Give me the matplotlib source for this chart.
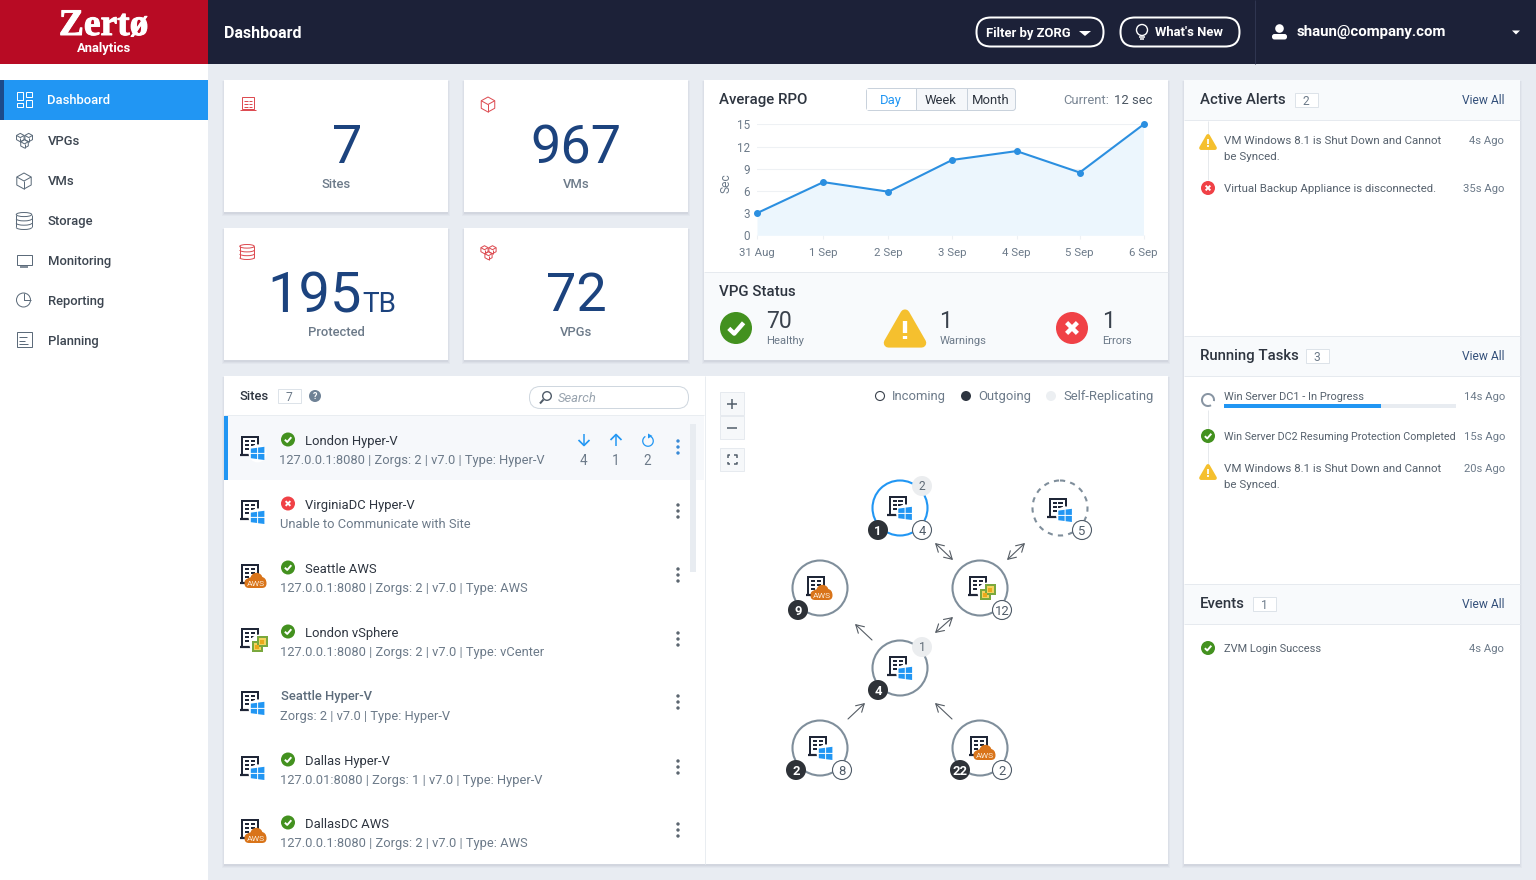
import matplotlib
matplotlib.use("Agg")
from matplotlib import pyplot as plt
from matplotlib import patheffects
from matplotlib.patches import Rectangle, FancyBboxPatch, Circle, Polygon, Ellipse, Arc, Wedge

plt.rcParams["font.family"] = ["Roboto", "DejaVu Sans"]

# Average RPO chart
rpo_days = ["31 Aug", "1 Sep", "2 Sep", "3 Sep", "4 Sep", "5 Sep", "6 Sep"]
rpo_pos = [0, 1.03, 2.04, 3.03, 4.03, 5.01, 6]
rpo_values = [3.0, 7.2, 5.9, 10.2, 11.4, 8.5, 15.0]
rpo_ticks = [0, 3, 6, 9, 12, 15]

# Top cards
card_values = ["7", "967", "195", "72"]
card_labels = ["Sites", "VMs", "Protected", "VPGs"]

# Sidebar
menu_items = ["Dashboard", "VPGs", "VMs", "Storage", "Monitoring", "Reporting", "Planning"]

# Sites list
site_names = ["London Hyper-V", "VirginiaDC Hyper-V", "Seattle AWS", "London vSphere",
              "Seattle Hyper-V", "Dallas Hyper-V", "DallasDC AWS"]
site_details = ["127.0.0.1:8080 | Zorgs: 2 | v7.0 | Type: Hyper-V",
                "Unable to Communicate with Site",
                "127.0.0.1:8080 | Zorgs: 2 | v7.0 | Type: AWS",
                "127.0.0.1:8080 | Zorgs: 2 | v7.0 | Type: vCenter",
                "Zorgs: 2 | v7.0 | Type: Hyper-V",
                "127.0.01:8080 | Zorgs: 1 | v7.0 | Type: Hyper-V",
                "127.0.0.1:8080 | Zorgs: 2 | v7.0 | Type: AWS"]
site_status = ["ok", "err", "ok", "ok", None, "ok", "ok"]
site_types = ["win", "win", "aws", "vs", "win", "win", "aws"]

NAVY = "#1c2138"
BLUE = "#2196f3"
GREY = "#6c7a89"
DARK = "#2e3540"
GREEN = "#43911f"
RED = "#f04146"
YELLOW = "#f5c02e"
CARD_BLUE = "#1c437e"
NOTE = "#56616d"

fig = plt.figure(figsize=(15.36, 8.8), dpi=100, facecolor="#e8ecf2")
ax = fig.add_axes([0, 0, 1, 1])
ax.set_xlim(0, 1536)
ax.set_ylim(880, 0)
ax.axis("off")


def T(x, y, s, size=13, color=DARK, ha="left", weight="normal", **kw):
    # y is the middle of the capital letters, size is in pixels
    return ax.text(x, y + 0.36 * size, s, fontsize=size * 0.72, color=color, ha=ha, va="baseline",
                   fontweight=weight, **kw)


def box(x0, y0, x1, y1, fc="white", ec="none", lw=0, z=1, r=0, **kw):
    if r:
        p = FancyBboxPatch((x0, y0), x1 - x0, y1 - y0, boxstyle=f"round,pad=0,rounding_size={r}",
                           fc=fc, ec=ec, lw=lw * 0.72, zorder=z, **kw)
    else:
        p = Rectangle((x0, y0), x1 - x0, y1 - y0, fc=fc, ec=ec, lw=lw * 0.72, zorder=z, **kw)
    ax.add_patch(p)


def line(xs, ys, color=DARK, lw=1, z=3, **kw):
    ax.plot(xs, ys, color=color, lw=lw * 0.72, zorder=z, solid_capstyle=kw.pop("cap", "butt"), **kw)


def card(x0, y0, x1, y1):
    for off, alpha in [(3, 0.03), (2, 0.04), (1, 0.05)]:
        box(x0 - off + 1, y0 + 1, x1 + off - 1, y1 + off + 1, fc="#33415c", alpha=alpha, z=0.5)
    box(x0, y0, x1, y1, z=1)


def check_icon(x, y, r=8):
    ax.add_patch(Circle((x, y), r, fc=GREEN, ec="none", zorder=4))
    k = r / 8
    line([x - 3.6 * k, x - 0.9 * k, x + 3.8 * k], [y + 0.2 * k, y + 2.8 * k, y - 2.6 * k], "white", 2.2 * k, 5)


def err_icon(x, y, r=8):
    ax.add_patch(Circle((x, y), r, fc=RED, ec="none", zorder=4))
    k = r / 8
    line([x - 2.7 * k, x + 2.7 * k], [y - 2.7 * k, y + 2.7 * k], "white", 2.2 * k, 5)
    line([x - 2.7 * k, x + 2.7 * k], [y + 2.7 * k, y - 2.7 * k], "white", 2.2 * k, 5)


def warn_icon(x, y, w=16):
    h = w * 0.8
    ax.add_patch(Polygon([(x, y - h / 2), (x + w * 0.46, y + h / 2), (x - w * 0.46, y + h / 2)], closed=True,
                         fc=YELLOW, ec=YELLOW, lw=3 * w / 16, joinstyle="round", zorder=4))
    line([x, x], [y - h * 0.25, y + h * 0.17], "white", w * 0.12, 5)
    line([x, x], [y + h * 0.27, y + h * 0.38], "white", w * 0.12, 5)


def building(cx, cy, color="#1f2637"):
    box(cx - 8, cy - 9, cx + 8, cy + 9, fc="white", ec=color, lw=2, z=4)
    line([cx - 10.5, cx + 8], [cy + 9, cy + 9], color, 2.2, 5)
    for dy in (-5, -0.8, 3.4):
        line([cx - 5, cx - 0.8], [cy + dy, cy + dy], color, 2, 5)
        line([cx + 0.8, cx + 5], [cy + dy, cy + dy], color, 2, 5)


def windows(cx, cy):
    ax.add_patch(Circle((cx, cy), 9, fc="white", zorder=5.5))
    ax.add_patch(Polygon([(cx - 6.8, cy - 4.8), (cx - 0.5, cy - 5.6), (cx - 0.5, cy - 0.5), (cx - 6.8, cy - 0.5)],
                         fc=BLUE, zorder=6))
    ax.add_patch(Polygon([(cx + 0.5, cy - 5.8), (cx + 6.8, cy - 6.6), (cx + 6.8, cy - 0.5), (cx + 0.5, cy - 0.5)],
                         fc=BLUE, zorder=6))
    ax.add_patch(Polygon([(cx - 6.8, cy + 0.5), (cx - 0.5, cy + 0.5), (cx - 0.5, cy + 5.6), (cx - 6.8, cy + 4.8)],
                         fc=BLUE, zorder=6))
    ax.add_patch(Polygon([(cx + 0.5, cy + 0.5), (cx + 6.8, cy + 0.5), (cx + 6.8, cy + 6.6), (cx + 0.5, cy + 5.8)],
                         fc=BLUE, zorder=6))


def aws(cx, cy):
    c = "#d9741a"
    box(cx - 11, cy - 2, cx + 11, cy + 7.5, fc=c, r=4.5, z=6)
    ax.add_patch(Circle((cx + 1, cy - 1.5), 6.2, fc=c, zorder=6))
    ax.add_patch(Circle((cx + 6, cy + 1), 4.5, fc=c, zorder=6))
    ax.add_patch(Circle((cx - 5, cy + 1), 4, fc=c, zorder=6))
    T(cx, cy + 2.5, "AWS", 8.5, "#fbe9d4", "center", zorder=7)


def vsphere(cx, cy):
    ax.add_patch(Circle((cx, cy), 10, fc="white", zorder=5.5))
    box(cx - 7, cy - 2, cx + 2, cy + 7, fc="#f4d35e", ec="#7aa83e", lw=2, z=6)
    box(cx - 2, cy - 7, cx + 7, cy + 2, fc="#f4d35e", ec="#7aa83e", lw=2, z=7)
    box(cx - 4.5, cy + 0.5, cx - 0.5, cy + 4.5, fc="#eba91c", z=8)
    box(cx + 0.5, cy - 4.5, cx + 4.5, cy - 0.5, fc="#eba91c", z=8)


def site_icon(cx, cy, kind):
    building(cx, cy)
    if kind == "win":
        windows(cx + 7.6, cy + 7.4)
    elif kind == "aws":
        aws(cx + 5.5, cy + 6.5)
    else:
        vsphere(cx + 9.5, cy + 6.5)


def badge(x, y, s, fc, ec="none", color="white", r=10, weight="bold", size=13):
    ax.add_patch(Circle((x, y), r, fc=fc, ec=ec, lw=0.8, zorder=8))
    T(x, y, s, size, color, "center", weight, zorder=9)


# --- header and sidebar
box(208, 0, 1536, 64, fc=NAVY, z=2)
box(0, 0, 208, 64, fc="#b80b24", z=2)
box(0, 64, 208, 880, z=1)
box(0, 80, 208, 120, fc=BLUE, z=2)
box(0, 80, 4, 120, fc="#1c4a8a", z=3)
logo = ax.text(103.5, 35, "Zertø", fontsize=27, color="white", ha="center", va="baseline", fontweight="bold",
               family="Liberation Serif", zorder=4)
logo.set_path_effects([patheffects.withStroke(linewidth=0.7, foreground="white")])
T(104, 47, "Analytics", 13, "white", "center", "bold", zorder=4)
T(224, 32, "Dashboard", 16, "white", weight="bold", zorder=4)

box(976.5, 17.5, 1103.5, 46.5, fc=NAVY, ec="white", lw=2, r=14.4, z=3)
T(986, 32, "Filter by ZORG", 13, "white", weight="bold", zorder=4)
ax.add_patch(Polygon([(1079, 31), (1091, 31), (1085, 36)], fc="white", zorder=4))
box(1120.5, 17.5, 1239.5, 46.5, fc=NAVY, ec="white", lw=2, r=14.4, z=3)
T(1155, 31.5, "What's New", 13, "white", weight="bold", zorder=4)
ax.add_patch(Circle((1142, 30), 5.5, fc="none", ec="white", lw=1, zorder=4))
line([1139, 1145], [37, 37], "white", 1.5, 4)
line([1140, 1144], [39.5, 39.5], "white", 1.5, 4)
line([1255, 1255], [0, 64], "#2f3550", 1, 4)
ax.add_patch(Circle((1279.5, 28.5), 4.3, fc="white", zorder=4))
box(1272, 34, 1287, 39.5, fc="white", r=2.5, z=4)
T(1297, 31, "shaun@company.com", 15, "white", weight="bold", zorder=4)
ax.add_patch(Polygon([(1512, 30.5), (1520, 30.5), (1516, 34.5)], fc="white", zorder=4))

menu_y = [99, 140, 180, 220, 260, 300, 340]
for i, name in enumerate(menu_items):
    if i == 0:
        T(47, menu_y[i], name, 13, "white", weight="medium", zorder=4)
    else:
        T(48, menu_y[i], name, 13, "#3c4550", weight="medium", zorder=4)

IC = "#5c6b7a"
box(16.5, 92.5, 22.5, 100, fc="none", ec="white", lw=1, z=4)
box(25.5, 92.5, 31.5, 97.5, fc="none", ec="white", lw=1, z=4)
box(16.5, 103, 22.5, 107.5, fc="none", ec="white", lw=1, z=4)
box(25.5, 100, 31.5, 107.5, fc="none", ec="white", lw=1, z=4)


def cube(cx, cy, s, color, lw=1):
    pts = [(cx, cy - s), (cx + s * 0.9, cy - s * 0.5), (cx + s * 0.9, cy + s * 0.5), (cx, cy + s),
           (cx - s * 0.9, cy + s * 0.5), (cx - s * 0.9, cy - s * 0.5)]
    ax.add_patch(Polygon(pts, closed=True, fc="none", ec=color, lw=lw * 0.72, zorder=4))
    line([cx - s * 0.9, cx, cx + s * 0.9], [cy - s * 0.5, cy, cy - s * 0.5], color, lw, 4)
    line([cx, cx], [cy, cy + s], color, lw, 4)


def cubes(cx, cy, s, color):
    cube(cx - s, cy - s * 0.7, s, color)
    cube(cx + s, cy - s * 0.7, s, color)
    cube(cx, cy + s * 0.8, s, color)


def db(cx, cy, w, h, color, lw=1):
    # stacked disks: top ellipse and three lower rims
    eh = h * 0.24
    top = cy - h / 2 + eh / 2
    ax.add_patch(Ellipse((cx, top), w, eh, fc="none", ec=color, lw=lw * 0.72, zorder=4))
    line([cx - w / 2, cx - w / 2], [top, cy + h / 2 - eh / 2], color, lw, 4)
    line([cx + w / 2, cx + w / 2], [top, cy + h / 2 - eh / 2], color, lw, 4)
    for k in range(3):
        yy = top + (k + 1) * (h - eh) / 3
        ax.add_patch(Arc((cx, yy), w, eh, theta1=0, theta2=180, ec=color, lw=lw * 0.72, zorder=4))


def sheet(cx, cy, w, h, color, lw=1):
    box(cx - w / 2, cy - h / 2, cx + w / 2, cy + h / 2, fc="none", ec=color, lw=lw, z=4)
    for k, f in [(-0.22, 0.2), (0.05, 0.05), (0.3, 0.28)]:
        line([cx - w * 0.32, cx + w * f], [cy + k * h, cy + k * h], color, lw, 4)


cubes(24.5, 140.5, 4.2, IC)
cube(24, 181, 8, IC)
db(24, 221, 15.5, 17, IC)
box(16.5, 255.5, 31.5, 265, fc="none", ec=IC, lw=1, z=4)
line([20, 28], [267, 267], IC, 1.5, 4)
ax.add_patch(Circle((23.5, 300), 7, fc="none", ec=IC, lw=0.72, zorder=4))
line([23.5, 23.5, 30.5], [293, 300, 300], IC, 1, 4)
sheet(24, 340, 15, 15, IC)

# --- top cards
card_boxes = [(224, 80, 448, 212), (464, 80, 688, 212), (224, 228, 448, 360), (464, 228, 688, 360)]
for i, (x0, y0, x1, y1) in enumerate(card_boxes):
    card(x0, y0, x1, y1)
    if i == 2:
        T(267, y0 + 64, card_values[i], 56, CARD_BLUE, zorder=4)
        T(362, y0 + 74, "TB", 28, CARD_BLUE, zorder=4)
    else:
        T(x0 + (123 if i == 0 else 112), y0 + 64, card_values[i], 54, CARD_BLUE, "center", zorder=4)
    T(x0 + 112.5, y0 + 103.5, card_labels[i], 13, "#6c7a89", "center", "medium", zorder=4)
RC = "#dd4c52"
box(242, 97.5, 254, 109.5, fc="none", ec=RC, lw=1, z=4)
line([240, 256], [110.5, 110.5], RC, 1, 4)
for yy in (101, 104, 107):
    line([244, 247.5], [yy, yy], RC, 1, 4)
    line([248.5, 252], [yy, yy], RC, 1, 4)
cube(488, 104.5, 7.5, RC)
db(247, 252, 14.5, 15, RC)
cubes(488.5, 252.5, 4, RC)

# --- RPO panel
card(704, 80, 1168, 360)
box(704, 273, 1168, 360, fc="#f8fafc", z=1.5)
line([704, 1168], [272.5, 272.5], "#e6eaef", 1, 2)
T(719, 98.5, "Average RPO", 15, DARK, weight="medium", zorder=4)
box(866.5, 88.5, 1015.5, 110.5, fc="#f5f7fa", ec="#c9d2dc", lw=1, r=3, z=3)
box(867, 89, 915.5, 110, fc="white", z=3.5)
line([915.5, 915.5], [88.5, 110.5], "#c9d2dc", 1, 4)
line([966.5, 966.5], [88.5, 110.5], "#c9d2dc", 1, 4)
T(891, 99.5, "Day", 13, BLUE, "center", zorder=5)
T(941, 99.5, "Week", 13, DARK, "center", zorder=5)
T(991, 99.5, "Month", 13, DARK, "center", zorder=5)
T(1109, 99.5, "Current:", 13, "#7a8694", "right", zorder=5)
T(1152, 99.5, "12 sec", 13, "#4a5562", "right", zorder=5)
T(729, 178.5, "Sec", 12, "#6c7a89", "center", rotation=90, rotation_mode="anchor", zorder=5)

# plot area in px: x 757..1143.5, y 124.5..235.3
chart = fig.add_axes([757 / 1536, 1 - 235.3 / 880, 386.5 / 1536, 110.8 / 880], zorder=2)
chart.patch.set_alpha(0)
chart.fill_between(rpo_pos, rpo_values, color="#ecf6fd", lw=0, zorder=1)
chart.plot(rpo_pos, rpo_values, color="#2b8fe0", lw=1.5, marker="o", ms=4, clip_on=False, zorder=3)
chart.set_xlim(0, 6)
chart.set_ylim(0, 15)
chart.set_xticks(rpo_pos, rpo_days)
chart.set_yticks(rpo_ticks)
chart.grid(axis="y", color="#eef1f4", lw=0.8, zorder=0)
chart.set_axisbelow(True)
for s in chart.spines.values():
    s.set_visible(False)
chart.tick_params(axis="x", length=3, color="#eef1f4", labelsize=8.2, labelcolor="#6c7a89", pad=6.5)
chart.tick_params(axis="y", length=0, labelsize=8.4, labelcolor="#6c7a89", pad=5)

T(719, 291, "VPG Status", 15, DARK, weight="medium", zorder=4)
check_icon(736, 328, 16)
warn_icon(905, 328.5, 36)
err_icon(1072, 328, 16)
for x, n, lab in [(767, "70", "Healthy"), (940, "1", "Warnings"), (1103, "1", "Errors")]:
    T(x - 1, 320, n, 23, "#3a424d", zorder=4)
    T(x - 0.5, 340, lab, 11.2, "#6c7a89", zorder=4)

# --- sites panel
card(224, 376, 1168, 864)
line([704.5, 704.5], [376, 864], "#e9edf1", 1, 2)
line([224, 704], [415.5, 415.5], "#e9edf1", 1, 2)
T(240, 395.5, "Sites", 13, DARK, weight="medium", zorder=4)
box(277.5, 389, 300.5, 403, fc="white", ec="#dde3e9", lw=1, z=3)
T(289, 397, "7", 12, "#6c7a89", "center", zorder=4)
ax.add_patch(Circle((315, 396), 6, fc="#6f8296", zorder=4))
T(315, 396, "?", 9, "white", "center", "bold", zorder=5)
box(529.5, 386.5, 688.5, 408.5, fc="white", ec="#cfd7df", lw=1, r=10.8, z=3)
ax.add_patch(Circle((547, 396), 4.3, fc="none", ec="#4f5b68", lw=1, zorder=4))
line([543.5, 540], [399.5, 403.5], "#4f5b68", 2, 4)
T(558, 397.5, "Search", 13, "#98a3ae", style="italic", zorder=4)

box(224, 416, 704, 480, fc="#f6f8fb", z=2)
box(224, 416, 228, 480, fc=BLUE, z=3)
box(690, 424, 696, 572, fc="#e8ecf1", z=3)
name_y = [440, 504, 568, 632, 695, 760, 823]
sub_y = [459, 523, 587, 651, 715, 779, 842]
sub_x = [279, 280, 280, 280, 280, 280, 280]
for i, name in enumerate(site_names):
    site_icon(250, name_y[i] + 6, site_types[i])
    if site_status[i] == "ok":
        check_icon(288, name_y[i] - 0.5, 7)
    elif site_status[i] == "err":
        err_icon(288, name_y[i] - 0.5, 7)
    if site_status[i] is None:
        T(281, name_y[i], name, 13, "#5d6c7b", weight="medium", zorder=4)
    else:
        T(305, name_y[i], name, 13, DARK, zorder=4)
    T(sub_x[i], sub_y[i], site_details[i], 12.9, "#6c7a89", zorder=4)
    for d in (-6, 0, 6):
        c = "#3a8ad6" if i == 0 else "#5c6670"
        ax.add_patch(Circle((678, name_y[i] + 7 + d), 1.7, fc=c, zorder=4))

# row 0 counters
for x, n in [(584, "4"), (616, "1"), (648, "2")]:
    T(x - 0.5, 460, n, 13.5, "#6c7a89", "center", zorder=4)
line([584, 584], [434, 445], BLUE, 1.5, 4)
line([578.5, 584, 589.5], [440, 445.5, 440], BLUE, 1.7, 4)
line([616, 616], [435, 446], BLUE, 1.5, 4)
line([610.5, 616, 621.5], [440, 434.5, 440], BLUE, 1.7, 4)
ax.add_patch(Arc((648, 441), 10.5, 10.5, theta1=-60, theta2=240, ec=BLUE, lw=0.9, zorder=4))
ax.add_patch(Polygon([(648, 433.5), (652.5, 436), (648, 438.5)], fc=BLUE, zorder=4))

# map controls
for y0 in (392, 416, 448):
    box(720, y0 + 0.5, 743.5, y0 + 23.5, fc="#f6f8fa", ec="#e6eaef", lw=1, z=3)
line([727, 737], [404, 404], "#4f5b68", 1.5, 4)
line([732, 732], [399, 409], "#4f5b68", 1.5, 4)
line([727, 737], [428, 428], "#4f5b68", 1.5, 4)
for sx, sy in [(-1, -1), (1, -1), (-1, 1), (1, 1)]:
    line([732 + sx * 4.5, 732 + sx * 4.5, 732 + sx * 2], [460 + sy * 2, 460 + sy * 4.5, 460 + sy * 4.5], "#4f5b68", 1.5, 4)

ax.add_patch(Circle((880, 396), 4.5, fc="white", ec="#3a424d", lw=0.8, zorder=4))
T(892, 395.5, "Incoming", 13, "#6c7a89", zorder=4)
ax.add_patch(Circle((966, 396), 5, fc="#2e3540", zorder=4))
T(978, 395.5, "Outgoing", 13, "#6c7a89", zorder=4)
ax.add_patch(Circle((1051, 396), 5, fc="#eceff2", zorder=4))
T(1063, 395.5, "Self-Replicating", 13, "#6c7a89", zorder=4)

# --- site map: ring x, ring y, icon x, icon y, type, colour, line style
RING = "#7f8e9b"
map_nodes = [(900, 508, 897.5, 506, "win", BLUE, "-"), (1060, 508, 1057.5, 508, "win", RING, (0, (2.5, 2.5))),
             (820, 588, 816, 586, "aws", RING, "-"), (980, 588, 978, 586, "vs", RING, "-"),
             (900, 668, 897.7, 666, "win", RING, "-"), (820, 748, 818, 746, "win", RING, "-"),
             (980, 748, 979, 746, "aws", RING, "-")]
for cx, cy, ix, iy, kind, col, ls in map_nodes:
    ax.add_patch(Circle((cx, cy), 27.5, fc="white", ec=col, lw=1.5, ls=ls, zorder=3))
    site_icon(ix, iy, kind)

dark_badges = [(878, 530, "1"), (798, 610, "9"), (878, 690, "4"), (796, 770, "2"), (960, 770, "22")]
white_badges = [(922, 530, "4"), (1082, 530, "5"), (1002, 610, "12"), (842, 770, "8"), (1002, 770, "2")]
grey_badges = [(922, 486, "2"), (922, 647, "1")]
for x, y, s in dark_badges:
    badge(x, y, s, "#2e3238")
for x, y, s in white_badges:
    badge(x, y, s, "white", "#4f5b68", "#4f5b68", 9.5, "normal")
for x, y, s in grey_badges:
    badge(x, y, s, "#ebedef", "none", "#5f6b77", 10, "normal", 12)

for a, b, style in [((935, 543), (953, 560), "<->"), ((1025, 543), (1007, 560), "<->"),
                    ((953, 617), (935, 633), "<->"), ((872, 640), (855, 624), "->"),
                    ((848, 719), (865, 703), "->"), ((952, 719), (935, 703), "->")]:
    ax.annotate("", xy=b, xytext=a, zorder=4,
                arrowprops=dict(arrowstyle=style + ",head_length=0.55,head_width=0.32", color="#555c64", lw=0.8,
                                shrinkA=0, shrinkB=0))

# --- right panel
card(1184, 80, 1520, 864)
for y0, y1 in [(80, 120), (337, 376), (585, 624)]:
    box(1184, y0, 1520, y1, fc="#f8fafc", z=1.5)
    line([1184, 1520], [y1 + 0.5, y1 + 0.5], "#e6eaef", 1, 2)
    if y0 > 80:
        line([1184, 1520], [y0 - 0.5, y0 - 0.5], "#e6eaef", 1, 2)

for y, title, n, bx in [(99, "Active Alerts", "2", 1306), (355, "Running Tasks", "3", 1317), (603, "Events", "1", 1264)]:
    T(1200, y, title, 15, DARK, weight="medium", zorder=4)
    box(bx - 11.5, y - 6, bx + 11.5, y + 8, fc="white", ec="#dde3e9", lw=1, z=3)
    T(bx, y + 1.5, n, 12, "#6c7a89", "center", zorder=4)
    T(1505, y + 1, "View All", 12, "#34507a", "right", zorder=4)

line([1208, 1208], [121, 180], "#e6e9ec", 1, 2)
warn_icon(1208, 142, 15)
err_icon(1208, 188, 7)
T(1224, 140, "VM Windows 8.1 is Shut Down and Cannot", 11.45, NOTE, zorder=4)
T(1224, 156, "be Synced.", 11.45, NOTE, zorder=4)
T(1224, 188, "Virtual Backup Appliance is disconnected.", 11.35, NOTE, zorder=4)
T(1504, 140, "4s Ago", 11.3, "#6c7a89", "right", zorder=4)
T(1504, 188, "35s Ago", 11.3, "#6c7a89", "right", zorder=4)

line([1208, 1208], [410, 464], "#e6e9ec", 1, 2)
ax.add_patch(Circle((1208, 400), 8.5, fc="white", zorder=3))
ax.add_patch(Wedge((1208, 400), 7, 60, 370, width=2, fc="#8895a3", zorder=4))
T(1224, 396, "Win Server DC1 - In Progress", 11, NOTE, zorder=4)
box(1224, 404, 1456, 408, fc="#e8ecf1", z=3)
box(1224, 404, 1381, 408, fc=BLUE, z=4)
T(1505, 396, "14s Ago", 11.3, "#6c7a89", "right", zorder=4)
check_icon(1208, 436, 7)
T(1224, 436, "Win Server DC2 Resuming Protection Completed", 10.8, NOTE, zorder=4)
T(1505, 436, "15s Ago", 11.3, "#6c7a89", "right", zorder=4)
warn_icon(1208, 472, 15)
T(1224, 468, "VM Windows 8.1 is Shut Down and Cannot", 11.45, NOTE, zorder=4)
T(1224, 484, "be Synced.", 11.45, NOTE, zorder=4)
T(1505, 468, "20s Ago", 11.3, "#6c7a89", "right", zorder=4)

check_icon(1208, 648, 7)
T(1224, 648, "ZVM Login Success", 11, NOTE, zorder=4)
T(1504, 648, "4s Ago", 11.3, "#6c7a89", "right", zorder=4)

plt.savefig("out.png", dpi=100, facecolor=fig.get_facecolor())
